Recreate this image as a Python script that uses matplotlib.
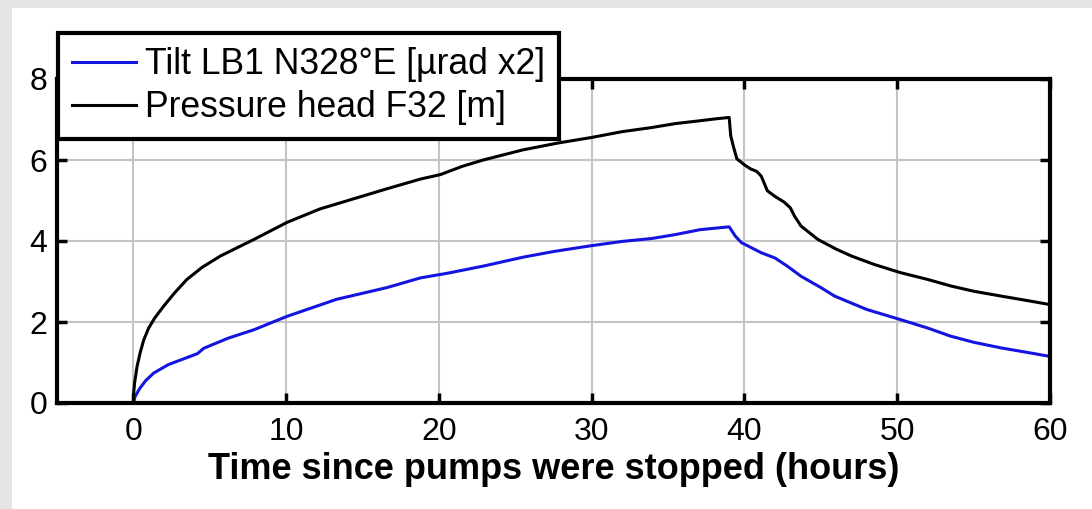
import matplotlib
matplotlib.use("Agg")
import matplotlib.pyplot as plt
from matplotlib.patches import Rectangle

plt.rcParams['font.family'] = ['Liberation Sans', 'DejaVu Sans']

# Time since pumps stopped (hours) and the two records
t_head = [0, 0.02, 0.08, 0.24, 0.45, 0.68, 1.0, 1.4, 1.98, 2.7, 3.5, 4.5, 5.7,
          7.9, 10.06, 12.2, 14.4, 16.6, 18.8, 20.1, 21.5, 22.9, 25.5, 27.8,
          29.9, 32.0, 33.9, 35.5, 37.1, 38.2, 39.0, 39.1, 39.3, 39.5, 40.0,
          40.4, 40.8, 41.1, 41.5, 42.0, 42.6, 43.0, 43.3, 43.7, 44.8, 46.0,
          47.0, 48.5, 50.2, 52.0, 53.5, 55.0, 56.8, 58.5, 60.0]
head = [0, 0.25, 0.5, 0.9, 1.25, 1.56, 1.85, 2.1, 2.39, 2.72, 3.05, 3.35, 3.63,
        4.04, 4.46, 4.79, 5.04, 5.29, 5.53, 5.64, 5.84, 6.0, 6.25, 6.42,
        6.55, 6.7, 6.8, 6.9, 6.97, 7.02, 7.05, 6.6, 6.3, 6.03, 5.88,
        5.78, 5.72, 5.6, 5.24, 5.1, 4.96, 4.82, 4.6, 4.37, 4.04, 3.8,
        3.63, 3.42, 3.22, 3.05, 2.89, 2.76, 2.64, 2.53, 2.43]

t_tilt = [0, 0.1, 0.4, 0.8, 1.33, 2.3, 3.5, 4.2, 4.6, 6.2, 7.9, 10.06, 13.3,
          16.6, 18.8, 20.5, 22.9, 25.5, 27.5, 29.9, 32.0, 33.9, 35.5, 37.1,
          39.0, 39.4, 39.8, 41.1, 42.0, 42.8, 43.7, 45.0, 45.9, 48.0, 50.2,
          52.0, 53.5, 55.0, 56.8, 58.5, 60.0]
tilt = [0, 0.15, 0.35, 0.55, 0.74, 0.95, 1.12, 1.22, 1.35, 1.6, 1.81, 2.14, 2.56,
        2.85, 3.09, 3.2, 3.38, 3.6, 3.74, 3.88, 3.99, 4.06, 4.16, 4.28,
        4.35, 4.12, 3.96, 3.71, 3.58, 3.38, 3.13, 2.85, 2.64, 2.31, 2.06,
        1.85, 1.65, 1.5, 1.36, 1.25, 1.15]

W, H = 1092, 509
fig = plt.figure(figsize=(W / 100, H / 100), dpi=100)
fig.patch.set_facecolor('#e4e4e4')
fig.patches.append(Rectangle((12 / W, 0), 1, 1 - 8 / H, transform=fig.transFigure,
                             facecolor='white', edgecolor='none', zorder=-10))

ax = fig.add_axes([57 / W, 1 - 403 / H, (1050 - 57) / W, (403 - 79) / H])
ax.plot(t_tilt, tilt, color='#1414e0', lw=2.2, label='Tilt LB1 N328°E [µrad x2]')
ax.plot(t_head, head, color='black', lw=2.2, label='Pressure head F32 [m]')

ax.set_xlim(-5, 60)
ax.set_ylim(0, 8)
ax.set_xticks([0, 10, 20, 30, 40, 50, 60])
ax.set_yticks([0, 2, 4, 6, 8])
ax.grid(True, color='#c4c4c4', lw=1.5)
ax.tick_params(direction='in', length=7, width=2.5, labelsize=23, top=True,
               right=True, pad=7)
ax.tick_params(axis='x', pad=10)
for s in ax.spines.values():
    s.set_linewidth(3)
ax.set_xlabel('Time since pumps were stopped (hours)', fontsize=26,
              fontweight='bold', labelpad=4)

leg = ax.legend(loc='upper left', bbox_to_anchor=(58 / W, 1 - 33 / H),
                bbox_transform=fig.transFigure, fontsize=25.6, fancybox=False,
                borderaxespad=0, handlelength=1.8, handletextpad=0.25,
                borderpad=0.4, labelspacing=0.22, framealpha=1)
leg.get_frame().set_edgecolor('black')
leg.get_frame().set_linewidth(3)

fig.savefig('out.png', dpi=100)
